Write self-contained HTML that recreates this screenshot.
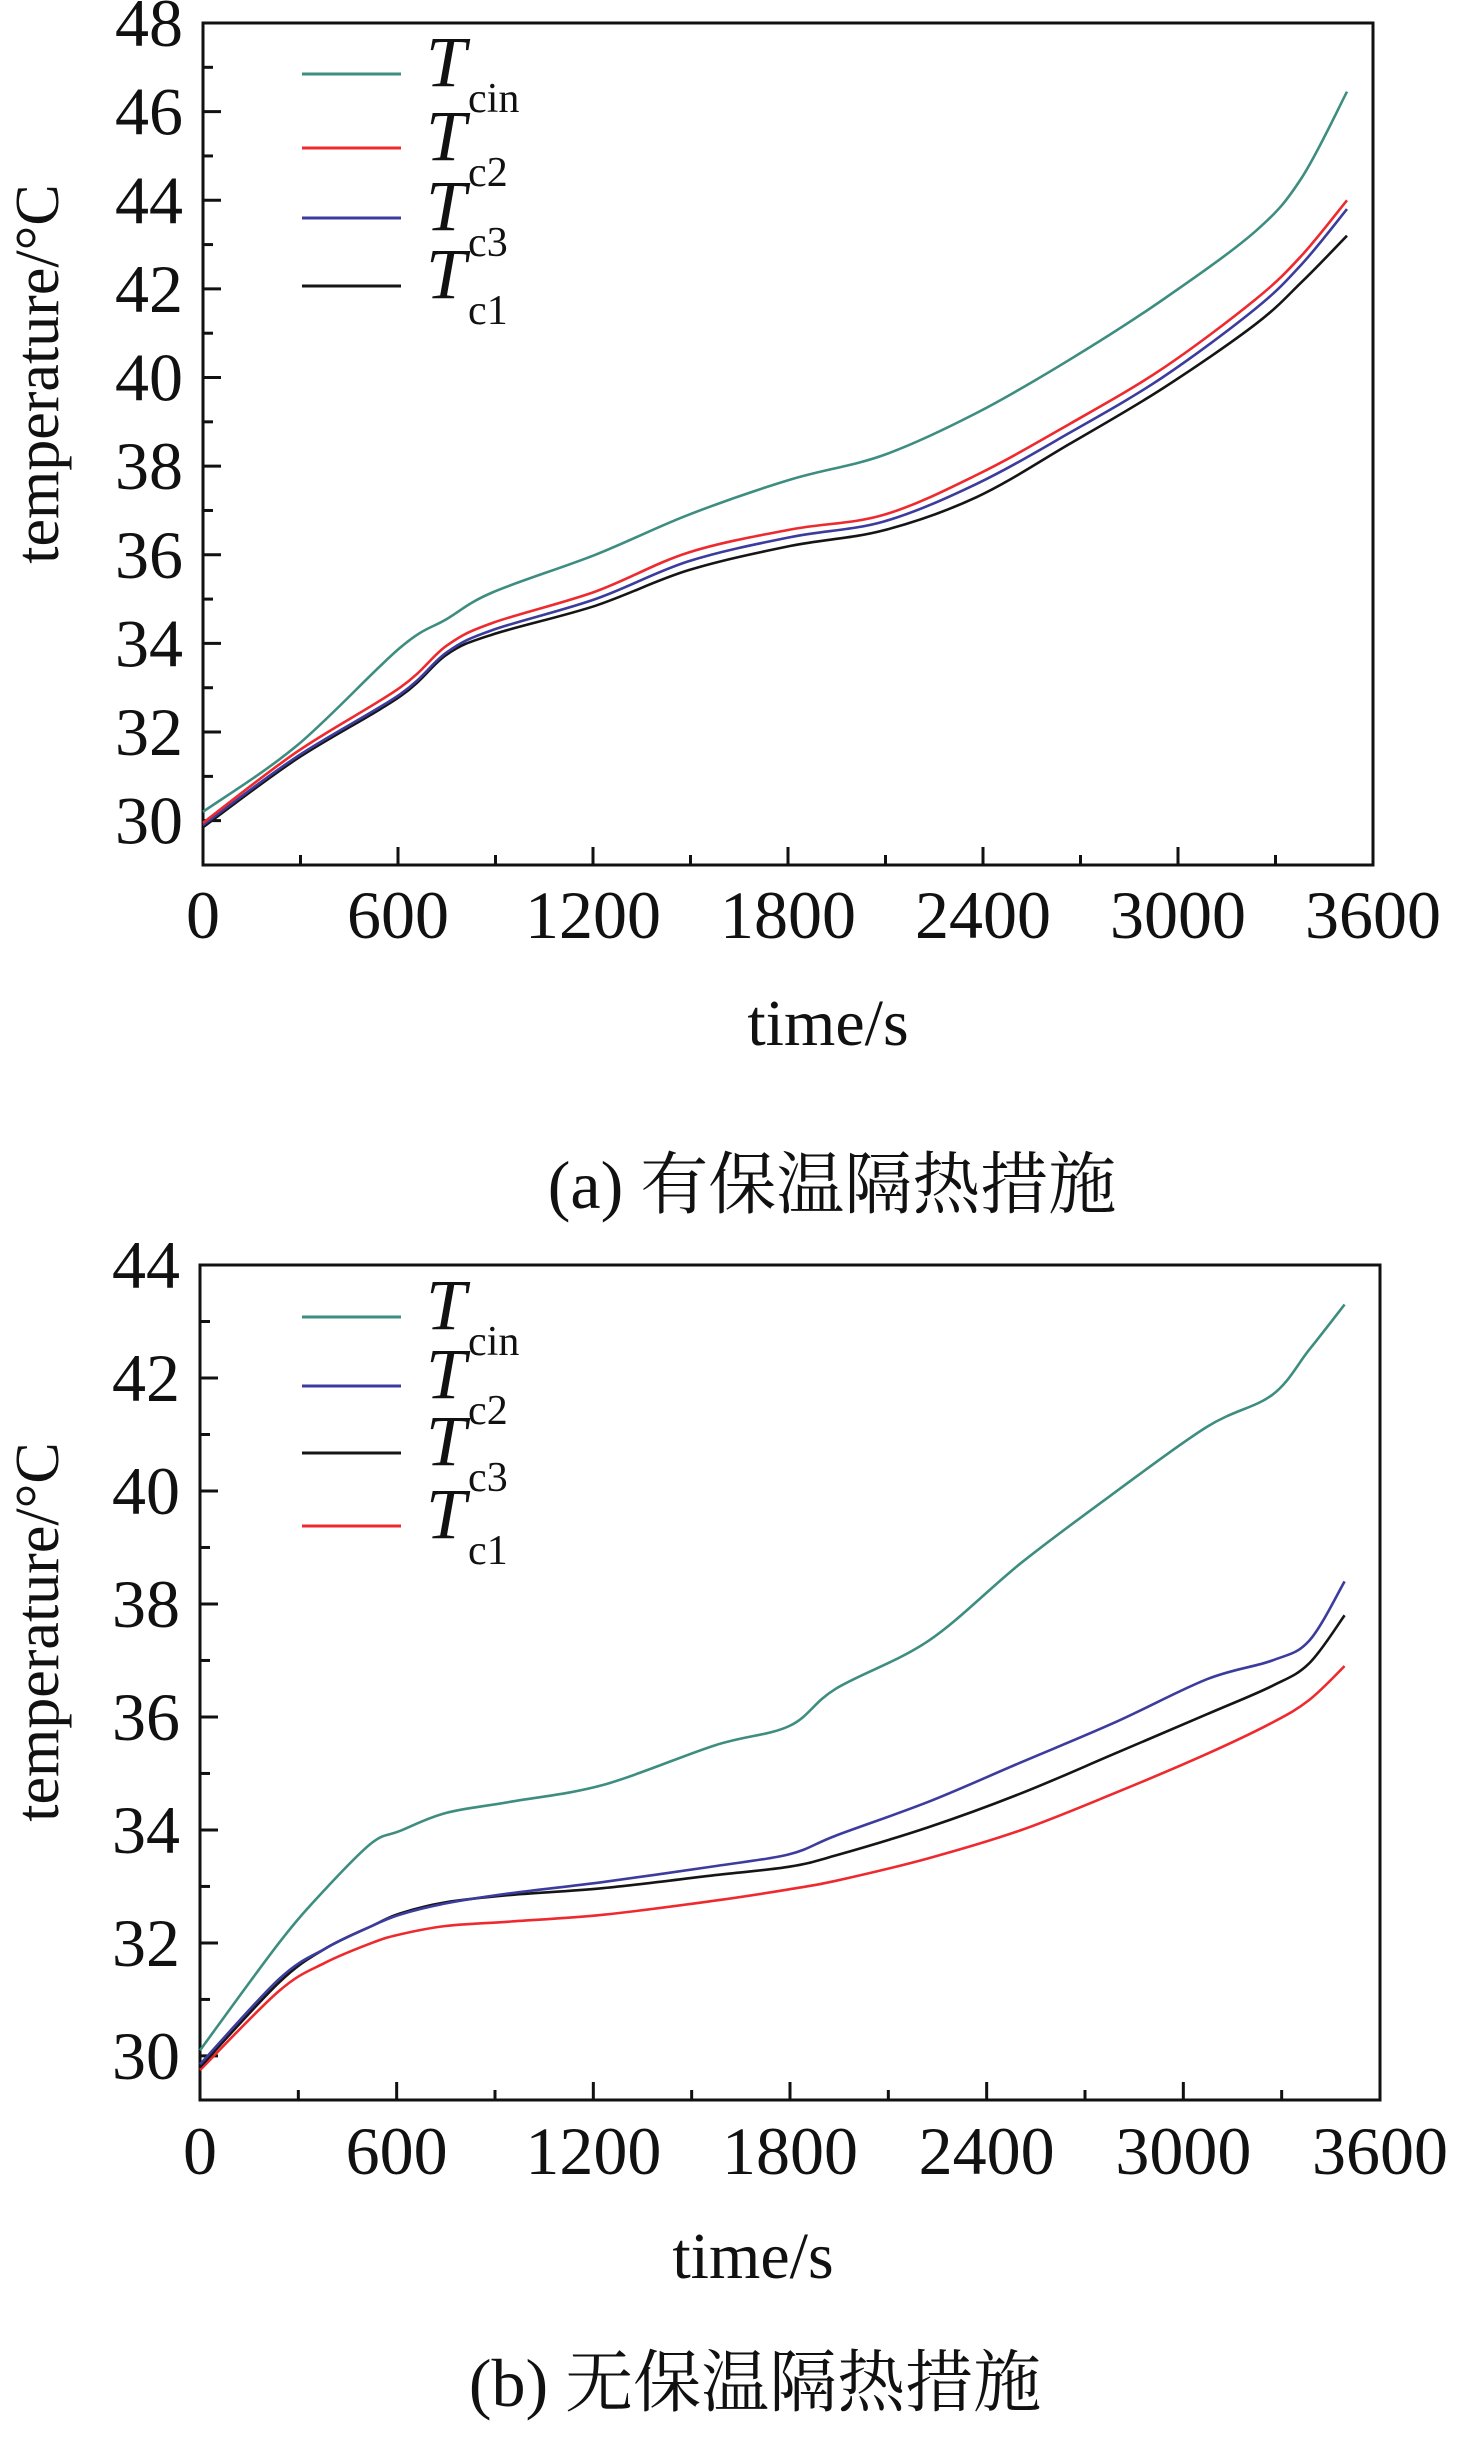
<!DOCTYPE html>
<html><head><meta charset="utf-8">
<style>
html,body{margin:0;padding:0;background:#fff;}
svg{display:block;}
text{font-family:"Liberation Serif","Noto Serif CJK SC",serif;fill:#111;}
</style></head>
<body>
<svg id="fig" width="1458" height="2440" viewBox="0 0 1458 2440" xmlns="http://www.w3.org/2000/svg">
<g id="chartA"></g>
<g id="chartB"></g>
<text x="832" y="1208" font-size="68" text-anchor="middle" font-family="Liberation Serif, Noto Serif CJK SC, serif">(a) 有保温隔热措施</text>
<text x="755" y="2406" font-size="68" text-anchor="middle" font-family="Liberation Serif, Noto Serif CJK SC, serif">(b) 无保温隔热措施</text>
</svg>
<script>
// ---- Chart A data ----
const timesA = [0,290,606,750,890,1207,1493,1808,2094,2380,2666,2952,3238,3380,3520];
const tcinA = [30.2,31.7,33.9,34.55,35.15,36.0,36.9,37.7,38.25,39.2,40.4,41.75,43.3,44.5,46.45];
const tc2A = [29.95,31.56,33.0,33.95,34.46,35.17,36.05,36.57,36.9,37.8,38.95,40.2,41.76,42.75,44.0];
const tc3A = [29.9,31.45,32.85,33.8,34.3,35.0,35.85,36.4,36.75,37.6,38.75,40.0,41.55,42.55,43.8];
const tc1A = [29.85,31.4,32.8,33.75,34.2,34.85,35.65,36.2,36.55,37.3,38.5,39.75,41.2,42.15,43.2];
const yTicksA = [30,32,34,36,38,40,42,44,46,48];
// ---- Chart B data ----
const timesB = [0,241,382,524,609,750,949,1232,1572,1798,1940,2223,2506,2790,3073,3271,3384,3492];
const tcinB = [30.1,32.0,32.95,33.77,33.98,34.3,34.5,34.8,35.5,35.84,36.5,37.35,38.73,39.97,41.14,41.7,42.5,43.3];
const tc2B = [29.85,31.36,31.9,32.3,32.5,32.7,32.88,33.08,33.36,33.57,33.9,34.5,35.2,35.9,36.67,37.0,37.35,38.4];
const tc3B = [29.8,31.3,31.9,32.3,32.52,32.72,32.85,32.97,33.2,33.35,33.55,34.05,34.65,35.35,36.05,36.55,36.95,37.8];
const tc1B = [29.75,31.15,31.65,32.0,32.15,32.3,32.38,32.5,32.75,32.95,33.1,33.5,34.0,34.65,35.35,35.9,36.3,36.9];
const yTicksB = [30,32,34,36,38,40,42,44];
const xTicks = [0,600,1200,1800,2400,3000,3600];

const NS="http://www.w3.org/2000/svg";
const TEAL="#3d8d80", RED="#ee2a2e", BLUE="#3c3c9e", BLACK="#151515";

function mk(parent,tag,attrs){const e=document.createElementNS(NS,tag);for(const k in attrs)e.setAttribute(k,attrs[k]);parent.appendChild(e);return e;}

function smoothPath(pts){
  let d="M"+pts[0][0].toFixed(1)+","+pts[0][1].toFixed(1);
  for(let i=0;i<pts.length-1;i++){
    const p0=pts[Math.max(0,i-1)],p1=pts[i],p2=pts[i+1],p3=pts[Math.min(pts.length-1,i+2)];
    const c1x=p1[0]+(p2[0]-p0[0])/6,c1y=p1[1]+(p2[1]-p0[1])/6;
    const c2x=p2[0]-(p3[0]-p1[0])/6,c2y=p2[1]-(p3[1]-p1[1])/6;
    d+=" C"+c1x.toFixed(1)+","+c1y.toFixed(1)+" "+c2x.toFixed(1)+","+c2y.toFixed(1)+" "+p2[0].toFixed(1)+","+p2[1].toFixed(1);
  }
  return d;
}

function drawChart(g,cfg){
  const {L,R,T,B,ymin,ymax,yTicks,times,series,legendY,tickLabelY,xTitleX,xTitleY,yTitleY,yLabelX}=cfg;
  const xs=t=>L+(t/3600)*(R-L);
  const ys=v=>B-(v-ymin)/(ymax-ymin)*(B-T);
  const frame=mk(g,'rect',{x:L,y:T,width:R-L,height:B-T,fill:'none',stroke:'#111','stroke-width':3});
  
  
  for(let v=Math.ceil(ymin);v<=ymax;v++){
    const major=yTicks.includes(v);
    const tk=mk(g,'line',{x1:L,x2:L+(major?18:10),y1:ys(v),y2:ys(v),stroke:'#111','stroke-width':3});
    
    
  }
  yTicks.forEach(v=>{
    const t=mk(g,'text',{x:yLabelX,y:ys(v)+23,'font-size':68,'text-anchor':'end'});
    t.textContent=v;
    
    
  });
  for(let t=0;t<=3600;t+=300){
    const major=t%600===0;
    const tk=mk(g,'line',{x1:xs(t),x2:xs(t),y1:B,y2:B-(major?18:10),stroke:'#111','stroke-width':3});
    
    
  }
  xTicks.forEach(t=>{
    const e=mk(g,'text',{x:xs(t),y:tickLabelY,'font-size':68,'text-anchor':'middle'});
    e.textContent=t;
    
    
  });
  const xt=mk(g,'text',{x:xTitleX,y:xTitleY,'font-size':66,'text-anchor':'middle'});
  xt.textContent='time/s';
  
  
  const yt=mk(g,'text',{x:0,y:0,'font-size':62,'text-anchor':'middle',transform:`translate(58,${yTitleY}) rotate(-90)`});
  yt.textContent='temperature/°C';
  
  
  series.forEach(s=>{
    const pts=times.map((t,i)=>[xs(t),ys(s.vals[i])]);
    const p=mk(g,'path',{d:smoothPath(pts),fill:'none',stroke:s.color,'stroke-width':2.6});
    
    
  });
  legendY.forEach((ly,i)=>{
    const s=cfg.legend[i];
    const ln=mk(g,'line',{x1:302,x2:401,y1:ly,y2:ly,stroke:s.color,'stroke-width':3});
    
    
    const tx=mk(g,'text',{x:426,y:ly+12,'font-size':72,'font-style':'italic'});
    
    
    const tm=mk(tx,'tspan',{});
    tm.textContent='T';
    const sb=mk(tx,'tspan',{'font-size':42,'font-style':'normal',dy:26,dx:2});
    sb.textContent=s.sub;
  });
}

drawChart(document.getElementById('chartA'),{
  L:203,R:1373,T:23,B:865,ymin:29,ymax:48,yTicks:yTicksA,times:timesA,
  series:[{key:'tcin',vals:tcinA,color:TEAL},{key:'tc1',vals:tc1A,color:BLACK},{key:'tc3',vals:tc3A,color:BLUE},{key:'tc2',vals:tc2A,color:RED}],
  legend:[{key:'tcin',sub:'cin',color:TEAL},{key:'tc2',sub:'c2',color:RED},{key:'tc3',sub:'c3',color:BLUE},{key:'tc1',sub:'c1',color:BLACK}],
  legendY:[74,148,218,286],tickLabelY:938,xTitleX:828,xTitleY:1045,yTitleY:374,yLabelX:183
});
drawChart(document.getElementById('chartB'),{
  L:200,R:1380,T:1265,B:2100,ymin:29.22,ymax:44,yTicks:yTicksB,times:timesB,
  series:[{key:'tcin',vals:tcinB,color:TEAL},{key:'tc1',vals:tc1B,color:RED},{key:'tc3',vals:tc3B,color:BLACK},{key:'tc2',vals:tc2B,color:BLUE}],
  legend:[{key:'tcin',sub:'cin',color:TEAL},{key:'tc2',sub:'c2',color:BLUE},{key:'tc3',sub:'c3',color:BLACK},{key:'tc1',sub:'c1',color:RED}],
  legendY:[1317,1386,1453,1526],tickLabelY:2174,xTitleX:753,xTitleY:2278,yTitleY:1632,yLabelX:180
});
</script>
</body></html>
